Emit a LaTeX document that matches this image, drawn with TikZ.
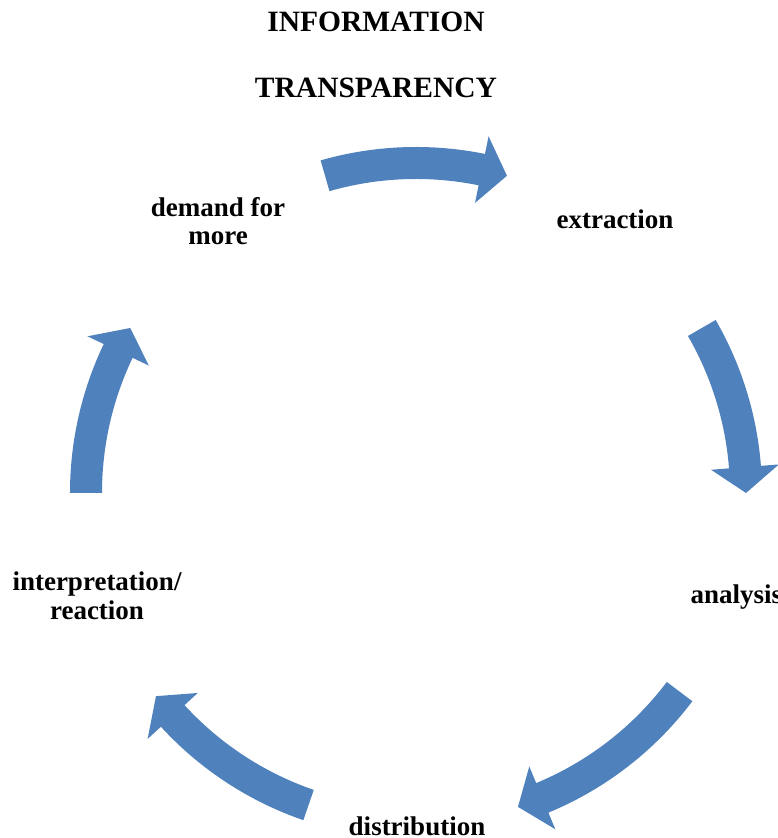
\documentclass[tikz,border=0pt]{standalone}
\usepackage{fontspec}
\setmainfont{Liberation Serif}
\usetikzlibrary{positioning}
\definecolor{cycleblue}{HTML}{4F81BD}

\tikzset{
  headline/.style={font=\bfseries\fontsize{11.8}{13}\selectfont, inner sep=0pt},
  steplabel/.style={font=\bfseries\fontsize{10.8}{11.4}\selectfont, align=center, inner sep=0pt},
  ringarrow/.style={fill=cycleblue, draw=none},
}

% block arrow bent along the ring, clockwise from #1 to #2 (degrees)
\newcommand{\ringarrow}[2]{%
  \fill[ringarrow] (#1:138.4pt) arc[start angle=#1, end angle=#2+4.5, radius=138.4pt]
    -- (#2+4.5:145.6pt) -- (#2:132pt) -- (#2+4.5:118.4pt) -- (#2+4.5:125.6pt)
    arc[start angle=#2+4.5, end angle=#1, radius=125.6pt] -- cycle;}

\begin{document}
\begin{tikzpicture}[x=0.4pt, y=0.4pt]
  \useasboundingbox (0,0) rectangle (778,838);

  \node[headline] (title1) at (376,816) {INFORMATION};
  \node[headline] (title2) [below=26.4pt of title1.center, anchor=center] {TRANSPARENCY};

  % the five steps
  \node[steplabel] (extract) at (615,619) {extraction};
  \node[steplabel, anchor=west] (analyse) at (690,241) {analysis};
  \node[steplabel, anchor=base] (distrib) at (417,2) {distribution};
  \node[steplabel] (interp) at (97,242) {interpretation/\\reaction};
  \node[steplabel] (demand) at (218,617) {demand for\\more};

  % arrows round the hub
  \coordinate (hub) at (416,345);
  \begin{scope}[shift={(hub)}]
    \ringarrow{106}{74}
    \ringarrow{30}{0}
    \ringarrow{-37}{-72}
    \ringarrow{-109}{-142}
    \ringarrow{180}{150}
  \end{scope}
\end{tikzpicture}
\end{document}
